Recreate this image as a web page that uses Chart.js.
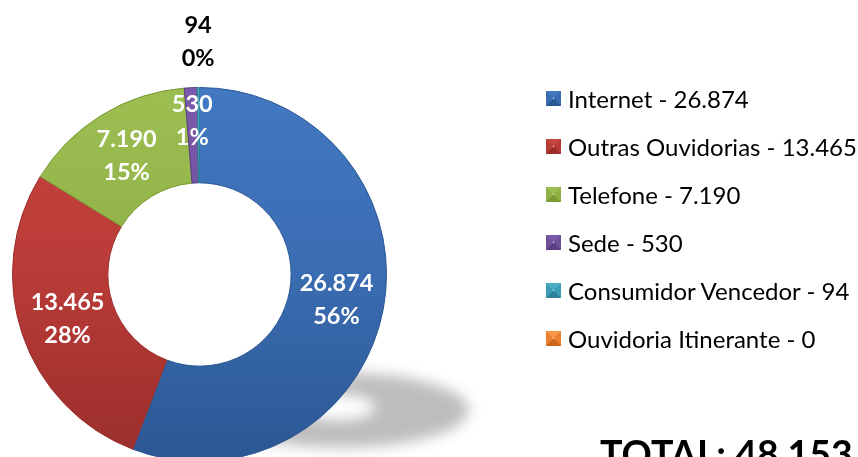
<!DOCTYPE html>
<html>
<head>
<meta charset="utf-8">
<script src="https://cdn.jsdelivr.net/npm/chart.js@4.4.1/dist/chart.umd.min.js"></script>
<style>
html, body { margin: 0; padding: 0; background: #fff; overflow: hidden; }
#wrap { position: relative; width: 858px; height: 457px; overflow: hidden; font-family: Lato, sans-serif; }
#chart { position: absolute; left: 0; top: 0; }
#legend { position: absolute; left: 546px; top: 74px; }
.item { height: 48px; display: flex; align-items: center; font-size: 24px; color: #000; white-space: nowrap; }
.box { width: 1px; height: 1px; border: 7px solid; margin-right: 7px; }
#total { position: absolute; left: 600px; top: 435px; font-weight: bold; font-size: 37.5px; line-height: 1; white-space: nowrap; color: #000; }
</style>
</head>
<body>
<div id="wrap">
  <canvas id="chart" width="858" height="500"></canvas>
  <div id="legend"></div>
  <div id="total"></div>
</div>
<script>
const labels = ["Internet", "Outras Ouvidorias", "Telefone", "Sede", "Consumidor Vencedor", "Ouvidoria Itinerante"];
const values = [26874, 13465, 7190, 530, 94, 0];

const lightColors = ["#4278c2", "#c8443f", "#9dbf52", "#7c5aab", "#4bacc6", "#f79646"];
const baseColors = ["#3a6cb1", "#b93b37", "#8fb045", "#6e4f9a", "#3c9cb6", "#e8802e"];
const darkColors = ["#2b5793", "#9a2e2b", "#7b9a35", "#5a3f82", "#2d8199", "#c9661c"];

const fmt = v => String(v).replace(/\B(?=(\d{3})+(?!\d))/g, ".");
const total = values.reduce((a, b) => a + b, 0);

// legend + total as html text
const legendEl = document.getElementById("legend");
labels.forEach((l, i) => {
    const row = document.createElement("div");
    row.className = "item";
    const box = document.createElement("span");
    box.className = "box";
    box.style.borderColor = `${lightColors[i]} ${baseColors[i]} ${darkColors[i]} ${baseColors[i]}`;
    row.appendChild(box);
    row.appendChild(document.createTextNode(`${l} - ${fmt(values[i])}`));
    legendEl.appendChild(row);
});
document.getElementById("total").textContent = `TOTAL: ${fmt(total)}`;

function sliceFill(ctx) {
    const chart = ctx.chart;
    const area = chart.chartArea;
    const i = ctx.dataIndex;
    if (!area) return baseColors[i];
    const g = chart.ctx.createLinearGradient(0, area.top, 0, area.bottom);
    g.addColorStop(0, lightColors[i]);
    g.addColorStop(0.5, baseColors[i]);
    g.addColorStop(1, darkColors[i]);
    return g;
}

const floorShadow = {
    id: "floorShadow",
    beforeDatasetsDraw(chart) {
        const arc = chart.getDatasetMeta(0).data[0];
        if (!arc) return;
        const { x, y, outerRadius: R } = arc.getProps(["x", "y", "outerRadius"], true);
        const c = chart.ctx;
        const ox = x + 0.76 * R, oy = y + 0.725 * R, orx = 0.68 * R, ory = 0.2 * R;
        const ix = x + 0.74 * R, iy = y + 0.71 * R, irx = 0.2 * R, iry = 0.07 * R;
        c.save();
        c.filter = "blur(7px)";
        c.fillStyle = "rgba(0,0,0,0.26)";
        c.beginPath();
        c.moveTo(ox + orx, oy);
        c.ellipse(ox, oy, orx, ory, 0, 0, Math.PI * 2);
        c.moveTo(ix + irx, iy);
        c.ellipse(ix, iy, irx, iry, 0, 0, Math.PI * 2);
        c.fill("evenodd");
        c.restore();
    }
};

const sliceLabels = {
    id: "sliceLabels",
    afterDatasetsDraw(chart) {
        const c = chart.ctx;
        const meta = chart.getDatasetMeta(0);
        c.save();
        c.font = "bold 23.5px Lato";
        c.textAlign = "center";
        c.textBaseline = "middle";
        meta.data.forEach((arc, i) => {
            const v = values[i];
            if (!v) return;
            const p = v / total;
            const { x, y, startAngle, endAngle, innerRadius, outerRadius } =
                arc.getProps(["x", "y", "startAngle", "endAngle", "innerRadius", "outerRadius"], true);
            const a = (startAngle + endAngle) / 2;
            let r, color = "#fff";
            if (p < 0.005) { r = outerRadius + 46; color = "#000"; }
            else if (p < 0.02) r = outerRadius - (outerRadius - innerRadius) * 0.35;
            else r = (innerRadius + outerRadius) / 2;
            const lx = x + Math.cos(a) * r, ly = y + Math.sin(a) * r;
            c.fillStyle = color;
            c.fillText(fmt(v), lx, ly - 16.5);
            c.fillText(Math.round(p * 100) + "%", lx, ly + 16.5);
        });
        c.restore();
    }
};

new Chart(document.getElementById("chart").getContext("2d"), {
    type: "doughnut",
    data: {
        labels,
        datasets: [{
            data: values,
            backgroundColor: sliceFill,
            borderColor: darkColors,
            borderWidth: 1
        }]
    },
    options: {
        responsive: false,
        animation: false,
        cutout: "49%",
        layout: { padding: { left: 12, top: 87, right: 471, bottom: 38 } },
        plugins: { legend: { display: false }, tooltip: { enabled: false } }
    },
    plugins: [floorShadow, sliceLabels]
});
</script>
</body>
</html>
